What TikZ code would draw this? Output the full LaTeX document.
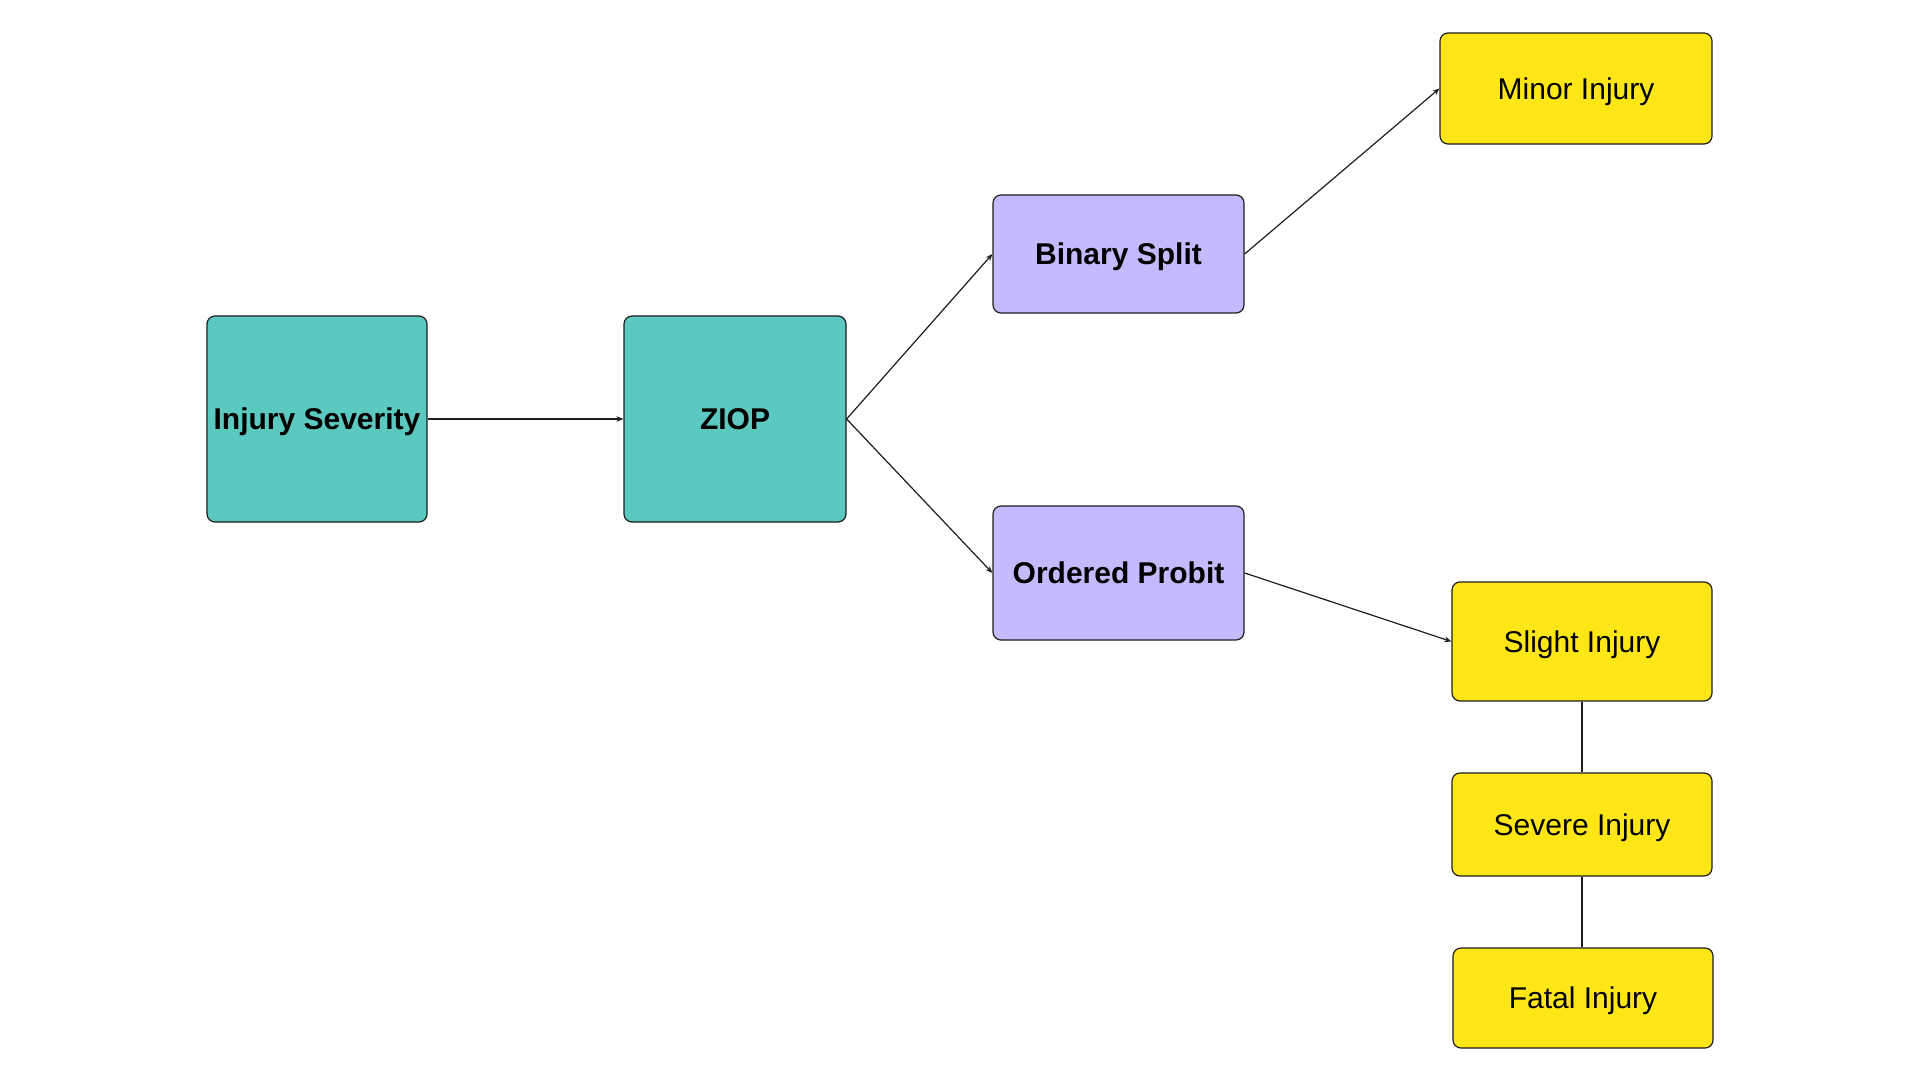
\documentclass[tikz,border=0pt]{standalone}
\usepackage{fontspec}
\setmainfont{Liberation Sans}
\usetikzlibrary{arrows.meta}
\definecolor{tealc}{HTML}{5BC9BF}
\definecolor{lavc}{HTML}{C5BAFD}
\definecolor{yelc}{HTML}{FFE616}
\definecolor{edgec}{HTML}{1E1E1E}
\tikzset{
  box/.style={draw=edgec, line width=0.6pt, rounded corners=4pt, inner sep=0pt, align=center, text depth=0pt, font=\fontsize{15pt}{18pt}\selectfont},
  tealbox/.style={box, fill=tealc, font=\fontsize{15pt}{18pt}\selectfont\bfseries},
  lavbox/.style={box, fill=lavc, font=\fontsize{15pt}{18pt}\selectfont\bfseries},
  yelbox/.style={box, fill=yelc},
  conn/.style={draw=edgec, line width=0.6pt},
  arr/.style={conn, -{Stealth[length=3.5pt,width=2.8pt]}}
}
\begin{document}
\begin{tikzpicture}[x=0.5pt,y=-0.5pt]
\useasboundingbox[fill=white] (0,0) rectangle (1920,1080);
\node[tealbox, minimum width=110pt, minimum height=103pt] (sev) at (317,419) {Injury Severity};
\node[tealbox, minimum width=111pt, minimum height=103pt] (ziop) at (735,419) {ZIOP};
\node[lavbox, minimum width=125.5pt, minimum height=59pt] (bin) at (1118.5,254) {Binary Split};
\node[lavbox, minimum width=125.5pt, minimum height=67pt] (ord) at (1118.5,573) {Ordered Probit};
\node[yelbox, minimum width=136pt, minimum height=55.5pt] (minor) at (1576,88.5) {Minor Injury};
\node[yelbox, minimum width=130pt, minimum height=59.5pt] (slight) at (1582,641.5) {Slight Injury};
\node[yelbox, minimum width=130pt, minimum height=51.5pt] (severe) at (1582,824.5) {Severe Injury};
\node[yelbox, minimum width=130pt, minimum height=50pt] (fatal) at (1583,998) {Fatal Injury};
\draw[arr] (sev.east) -- (ziop.west);
\draw[arr] (ziop.east) -- (bin.west);
\draw[arr] (ziop.east) -- (ord.west);
\draw[arr] (bin.east) -- (minor.west);
\draw[arr] (ord.east) -- (slight.west);
\draw[conn] (slight.south) -- (severe.north);
\draw[conn] (severe.south) -- (severe.south |- fatal.north);
\end{tikzpicture}
\end{document}
